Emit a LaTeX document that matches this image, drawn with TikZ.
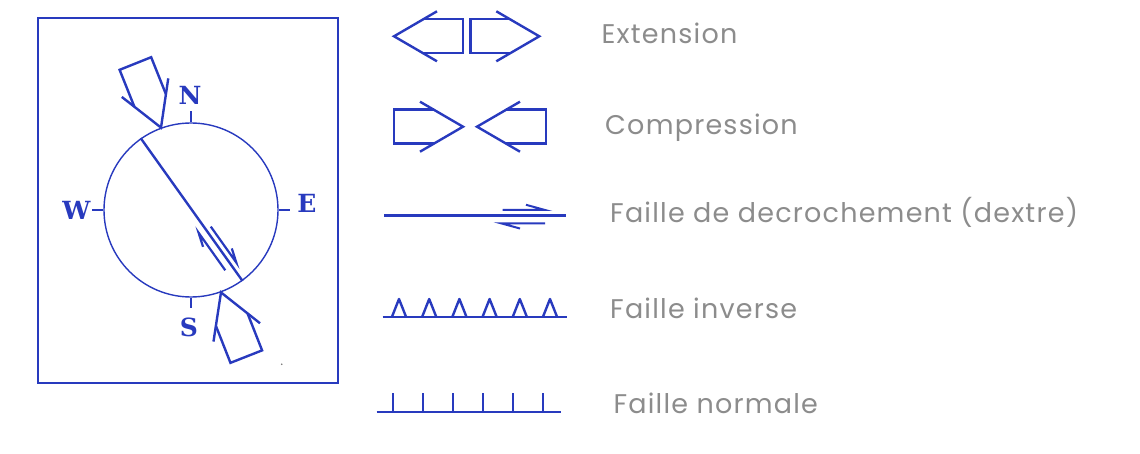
\documentclass[tikz,border=0pt]{standalone}
\usepackage{fontspec}
\usepackage{graphicx}
\newfontfamily\labfont[LetterSpace=4.5]{Poppins}
\newfontfamily\dirfont{DejaVu Serif}
\definecolor{ink}{RGB}{40,58,190}
\definecolor{txt}{RGB}{140,140,140}
\tikzset{
  frame/.style={draw=ink, line width=2pt},
  thinline/.style={draw=ink, line width=1.4pt},
  heavy/.style={draw=ink, line width=2.4pt, line join=miter},
  lab/.style={anchor=base west, inner sep=0pt, text=txt, font=\labfont\fontsize{27}{30}\selectfont},
  dirlab/.style={text=ink, inner sep=0pt, font=\dirfont\bfseries\fontsize{25}{28}\selectfont},
  openarrow/.pic={
    \draw[heavy] (-43,25) -- (0,0) -- (-43,-25);
    \draw[heavy] (-29.2,17) -- (-69,17) -- (-69,-17) -- (-29.2,-17);
  }
}
\begin{document}
\begin{tikzpicture}[x=1pt,y=-1pt]
\useasboundingbox (0,0) rectangle (1140,454);
% frame
\draw[frame] (38,18) rectangle (338,383);
% compass circle
\node[thinline, circle, minimum size=174pt, inner sep=0pt] (cc) at (191,210) {};
\draw[thinline] (cc.north) -- ++(0,-11);
\draw[thinline] (cc.south) -- ++(0,10);
\draw[thinline] (cc.west) -- ++(-11,0);
\draw[thinline] (cc.east) -- ++(11,0);
\node[dirlab] (N) at (190,95) {N};
\node[dirlab] (S) at (189,327.5) {S};
\node[dirlab] (W) at (76.5,210) {W};
\node[dirlab] (E) at (307,203.5) {E};
% fault
\draw[heavy] (cc.125.4) -- (cc.-54.6);
\begin{scope}[shift={(cc.center)}, rotate=-54.6]
  \draw[heavy, line width=2.2pt] (25,-6.5) coordinate (ne1) -- (69,-6.5) coordinate (ne2) -- (55,-11);
  \draw[heavy, line width=2.2pt] (69,7) coordinate (sw1) -- (23,7) coordinate (sw2) -- (37,11.5);
\end{scope}
% compression arrows on compass
\pic[rotate=-68.2] at (cc.110.3) {openarrow};
\pic[rotate=111.5] at (cc.-70.5) {openarrow};
\fill[black!55] (281.7,364.3) circle[radius=0.9pt];
% legend: extension
\pic[rotate=180] at (394,36.3) {openarrow};
\pic at (539.3,36.3) {openarrow};
\node[lab] (t1) at (601.5,43.3) {Extension};
% compression
\pic at (463,126.7) {openarrow};
\pic[rotate=180] at (477,126.7) {openarrow};
\node[lab] (t2) at (605,134.3) {Compression};
% strike slip
\draw[heavy] (384,215.7) coordinate (ss1) -- (566,215.7) coordinate (ss2);
\draw[heavy, line width=2pt] (502.7,210) -- (545,210) -- (526,204.8);
\draw[heavy, line width=2pt] (545,223.3) -- (501,223.3) -- (520,228.5);
\node[lab] (t3) at (610,222.5) {Faille de decrochement (dextre)};
% reverse fault
\draw[heavy] (382.7,316.7) coordinate (r1) -- (566.7,316.7) coordinate (r2);
\foreach \k in {0,...,5} {
  \draw[heavy, line join=round] ({399+30.2*\k-7},316.7) -- ({399+30.2*\k},299) -- ({399+30.2*\k+7},316.7);
}
\node[lab] (t4) at (610,318.3) {Faille inverse};
% normal fault
\draw[heavy] (376.7,411.7) coordinate (n1) -- (560.7,411.7) coordinate (n2);
\foreach \k in {0,...,5} {
  \draw[heavy] ({392.7+30.1*\k},411.7) -- ({392.7+30.1*\k},393.3);
}
\node[lab] (t5) at (613.3,413.3) {Faille normale};
\end{tikzpicture}
\end{document}
